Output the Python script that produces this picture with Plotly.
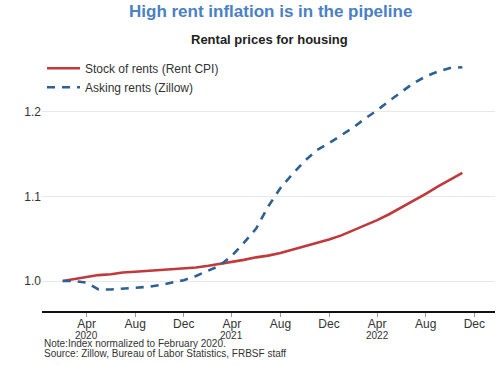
import plotly.graph_objects as go

months = ["2020-02-01", "2020-03-01", "2020-04-01", "2020-05-01", "2020-06-01", "2020-07-01",
          "2020-08-01", "2020-09-01", "2020-10-01", "2020-11-01", "2020-12-01",
          "2021-01-01", "2021-02-01", "2021-03-01", "2021-04-01", "2021-05-01", "2021-06-01",
          "2021-07-01", "2021-08-01", "2021-09-01", "2021-10-01", "2021-11-01", "2021-12-01",
          "2022-01-01", "2022-02-01", "2022-03-01", "2022-04-01", "2022-05-01", "2022-06-01",
          "2022-07-01", "2022-08-01", "2022-09-01", "2022-10-01", "2022-11-01"]

rent_cpi = [1.000, 1.002, 1.005, 1.007, 1.008, 1.010, 1.011, 1.012, 1.013, 1.014, 1.015,
            1.016, 1.018, 1.020, 1.022, 1.025, 1.028, 1.030, 1.033, 1.037, 1.041, 1.045, 1.049,
            1.054, 1.060, 1.066, 1.072, 1.079, 1.087, 1.095, 1.103, 1.112, 1.120, 1.128]

zillow = [1.000, 1.000, 0.998, 0.990, 0.990, 0.991, 0.992, 0.993, 0.995, 0.998, 1.001,
          1.006, 1.012, 1.018, 1.030, 1.045, 1.062, 1.088, 1.110, 1.127, 1.142, 1.155, 1.163,
          1.172, 1.182, 1.192, 1.202, 1.213, 1.224, 1.234, 1.242, 1.248, 1.252, 1.253]

tick_dates = ["2020-04-01", "2020-08-01", "2020-12-01", "2021-04-01", "2021-08-01",
              "2021-12-01", "2022-04-01", "2022-08-01", "2022-12-01"]
tick_labels = ["Apr", "Aug", "Dec", "Apr", "Aug", "Dec", "Apr", "Aug", "Dec"]
year_dates = ["2020-04-01", "2021-04-01", "2022-04-01"]
year_labels = ["2020", "2021", "2022"]

y_ticks = [1.0, 1.1, 1.2]
y_tick_labels = ["1.0", "1.1", "1.2"]

FONT = "Liberation Sans, Arial, sans-serif"

W, H = 500, 365
L, R, T = 42, 5, 60
AXIS_Y = 311
B = H - AXIS_Y
PH = AXIS_Y - T  # plot height in px
PW = W - L - R

fig = go.Figure()
fig.add_trace(go.Scatter(x=months, y=rent_cpi, mode="lines", name="Stock of rents (Rent CPI)",
                         line=dict(color="#c0393b", width=2.6)))
fig.add_trace(go.Scatter(x=months, y=zillow, mode="lines", name="Asking rents (Zillow)",
                         line=dict(color="#2d6094", width=2.6, dash="8px,7px")))

fig.update_layout(
    width=W, height=H,
    margin=dict(l=L, r=R, t=T, b=B, pad=0),
    paper_bgcolor="white", plot_bgcolor="white",
    font=dict(family=FONT, size=12, color="#333333"),
    showlegend=True,
    legend=dict(x=0.0, y=1.025, xanchor="left", yanchor="top", bgcolor="rgba(0,0,0,0)",
                font=dict(size=12, color="#333333"), itemwidth=33, tracegroupgap=0),
    xaxis=dict(type="date", range=["2019-12-11", "2023-01-22"],
               tickvals=tick_dates, ticktext=tick_labels,
               showgrid=False, showline=True, linecolor="#111111", linewidth=2,
               ticks="outside", ticklen=4, tickcolor="#999999", tickwidth=1,
               ticklabelstandoff=-3,
               tickfont=dict(size=12, color="#333333"), zeroline=False, automargin=False),
    yaxis=dict(range=[0.9645, 1.2615], tickvals=y_ticks, ticktext=y_tick_labels,
               showgrid=True, gridcolor="#e8e8e8", gridwidth=1, zeroline=False,
               showline=False, ticks="", tickfont=dict(size=12, color="#333333"),
               automargin=False),
)

fig.add_annotation(text="<b>High rent inflation is in the pipeline</b>", xref="paper", yref="paper",
                   x=(270 - L) / PW, y=1 + (T - 12) / PH, showarrow=False,
                   font=dict(size=17, color="#4a80c4", family=FONT), xanchor="center", yanchor="middle")
fig.add_annotation(text="<b>Rental prices for housing</b>", xref="paper", yref="paper",
                   x=(269 - L) / PW, y=1 + (T - 39) / PH, showarrow=False,
                   font=dict(size=13, color="#222222", family=FONT), xanchor="center", yanchor="middle")
for d, t in zip(year_dates, year_labels):
    fig.add_annotation(text=t, xref="x", yref="paper", x=d, y=-(335 - AXIS_Y) / PH,
                       showarrow=False, font=dict(size=10, color="#333333", family=FONT),
                       xanchor="center", yanchor="middle")
fig.add_annotation(text="Note:Index normalized to February 2020.",
                   xref="paper", yref="paper", x=0, y=-(343.5 - AXIS_Y) / PH, showarrow=False,
                   font=dict(size=10, color="#333333", family=FONT), xanchor="left", yanchor="middle")
fig.add_annotation(text="Source: Zillow, Bureau of Labor Statistics, FRBSF staff",
                   xref="paper", yref="paper", x=0, y=-(353.5 - AXIS_Y) / PH, showarrow=False,
                   font=dict(size=10, color="#333333", family=FONT), xanchor="left", yanchor="middle")

fig.write_html("out.html", config={"displayModeBar": False},
               post_script="document.body.style.margin='0';")
